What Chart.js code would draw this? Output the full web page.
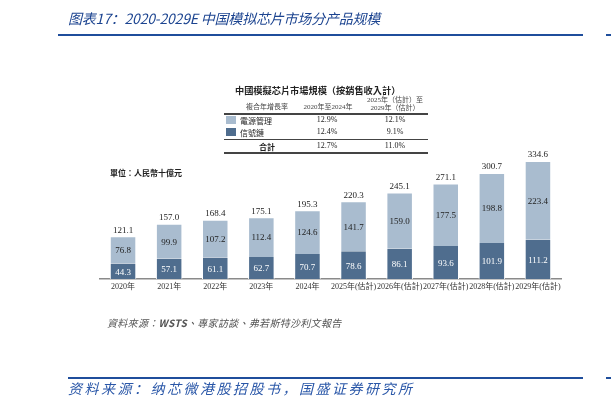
<!DOCTYPE html>
<html>
<head>
<meta charset="utf-8">
<script src="https://cdn.jsdelivr.net/npm/chart.js@4.4.1/dist/chart.umd.min.js"></script>
<style>
  body { margin: 0; background: #fff; }
  #wrap { position: relative; width: 611px; height: 410px; overflow: hidden; font-family: "Liberation Serif", "Noto Sans CJK TC", serif; }
  #wrap canvas { position: absolute; left: 0; top: 0; }
  .abs { position: absolute; white-space: nowrap; }
  .title { left: 68px; top: 8px; font: italic 14px "Noto Sans CJK SC", sans-serif; color: #1c4490; letter-spacing: -0.2px; }
  .rule { background: #1f4e9c; height: 2px; }
  .src2 { left: 68px; top: 378px; font: italic 14px "Noto Sans CJK SC", sans-serif; color: #2a57a8; letter-spacing: 2.5px; }
  .tt { left: 235px; top: 83px; font: bold 9.2px "Noto Sans CJK TC", serif; color: #222; }
  .th { font: 7px "Liberation Serif", "Noto Sans CJK TC", serif; color: #444; text-align: center; line-height: 8px; }
  .td { font: 8px "Liberation Serif", "Noto Sans CJK TC", serif; color: #222; text-align: center; }
  .tl { position: absolute; left: 224px; width: 204px; height: 1px; background: #444; }
  .sw { position: absolute; left: 226px; width: 10px; height: 8px; }
  .unit { left: 110px; top: 167px; font: bold 8px "Noto Sans CJK TC", serif; color: #222; }
  .src1 { left: 107px; top: 315px; font: italic 10px "Noto Sans CJK TC", serif; color: #555; letter-spacing: 0.3px; }
</style>
</head>
<body>
<div id="wrap">
  <canvas id="marketChart" width="611" height="410"></canvas>

  <div class="abs title">图表17：2020-2029E 中国模拟芯片市场分产品规模</div>
  <div class="abs rule" style="left:58px; top:34px; width:525px;"></div>
  <div class="abs rule" style="left:606px; top:34px; width:5px;"></div>

  <div class="abs tt">中國模擬芯片市場規模（按銷售收入計）</div>
  <div class="abs th" style="left:236px; top:103px; width:62px;">複合年增長率</div>
  <div class="abs th" style="left:296px; top:103px; width:64px;">2020年至2024年</div>
  <div class="abs th" style="left:364px; top:96px; width:62px;">2025年（估計）至<br>2029年（估計）</div>
  <div class="tl" style="top:113px; height:1.5px;"></div>
  <div class="sw" style="top:116px; background:#a9bccf;"></div>
  <div class="abs td" style="left:240px; top:115px; text-align:left;">電源管理</div>
  <div class="abs td" style="left:295px; top:115px; width:64px;">12.9%</div>
  <div class="abs td" style="left:364px; top:115px; width:62px;">12.1%</div>
  <div class="sw" style="top:128px; background:#4f6d8e;"></div>
  <div class="abs td" style="left:240px; top:127px; text-align:left;">信號鏈</div>
  <div class="abs td" style="left:295px; top:127px; width:64px;">12.4%</div>
  <div class="abs td" style="left:364px; top:127px; width:62px;">9.1%</div>
  <div class="tl" style="top:139px;"></div>
  <div class="abs td" style="left:236px; top:141px; width:62px; font-weight:bold;">合計</div>
  <div class="abs td" style="left:295px; top:141px; width:64px;">12.7%</div>
  <div class="abs td" style="left:364px; top:141px; width:62px;">11.0%</div>
  <div class="tl" style="top:152px; height:1.5px;"></div>

  <div class="abs unit">單位：人民幣十億元</div>
  <div class="abs src1">資料來源：<b>WSTS</b>、專家訪談、弗若斯特沙利文報告</div>

  <div class="abs rule" style="left:68px; top:377px; width:515px;"></div>
  <div class="abs rule" style="left:606px; top:377px; width:5px;"></div>
  <div class="abs src2">资料来源：纳芯微港股招股书，国盛证券研究所</div>
</div>

<script>
const years = ['2020年', '2021年', '2022年', '2023年', '2024年',
    '2025年(估計)', '2026年(估計)', '2027年(估計)', '2028年(估計)', '2029年(估計)'];
const signalChain = [44.3, 57.1, 61.1, 62.7, 70.7, 78.6, 86.1, 93.6, 101.9, 111.2];
const powerMgmt = [76.8, 99.9, 107.2, 112.4, 124.6, 141.7, 159.0, 177.5, 198.8, 223.4];
const totals = [121.1, 157.0, 168.4, 175.1, 195.3, 220.3, 245.1, 271.1, 300.7, 334.6];

// value labels inside segments and totals on top
const labelPlugin = {
    id: 'barLabels',
    afterDatasetsDraw(chart) {
        const ctx = chart.ctx;
        ctx.save();
        ctx.font = '9px "Liberation Serif", serif';
        ctx.textAlign = 'center';
        ctx.textBaseline = 'middle';
        chart.data.datasets.forEach((ds, i) => {
            const meta = chart.getDatasetMeta(i);
            meta.data.forEach((bar, j) => {
                ctx.fillStyle = i === 0 ? '#ffffff' : '#222222';
                ctx.fillText(ds.data[j].toFixed(1), bar.x, (bar.y + bar.base) / 2 + 1);
            });
        });
        const top = chart.getDatasetMeta(1);
        ctx.fillStyle = '#222222';
        top.data.forEach((bar, j) => {
            ctx.fillText(totals[j].toFixed(1), bar.x, bar.y - 6);
        });
        ctx.restore();
    }
};

new Chart(document.getElementById('marketChart').getContext('2d'), {
    type: 'bar',
    data: {
        labels: years,
        datasets: [
            {
                label: '信號鏈',
                data: signalChain,
                backgroundColor: '#4f6d8e',
                borderColor: '#ffffff',
                borderWidth: { left: 1, right: 1, top: 0, bottom: 0 },
                borderSkipped: false
            },
            {
                label: '電源管理',
                data: powerMgmt,
                backgroundColor: '#a9bccf',
                borderColor: '#ffffff',
                borderWidth: { left: 1, right: 1, top: 1, bottom: 0 },
                borderSkipped: false
            }
        ]
    },
    options: {
        responsive: false,
        animation: false,
        layout: { padding: { left: 100, right: 50, top: 138, bottom: 111 } },
        plugins: { legend: { display: false }, tooltip: { enabled: false } },
        datasets: { bar: { categoryPercentage: 1, barPercentage: 0.575 } },
        scales: {
            x: {
                stacked: true,
                grid: { display: false, drawTicks: false },
                border: { color: '#8a8a8a', width: 1.5 },
                ticks: {
                    color: '#333',
                    font: { size: 8, family: '"Liberation Serif", "Noto Sans CJK TC", serif' },
                    padding: 3,
                    maxRotation: 0,
                    autoSkip: false
                },
                afterFit: scale => { scale.height = 20; }
            },
            y: {
                stacked: true,
                display: false,
                min: 0,
                max: 400
            }
        }
    },
    plugins: [labelPlugin]
});
</script>
</body>
</html>
